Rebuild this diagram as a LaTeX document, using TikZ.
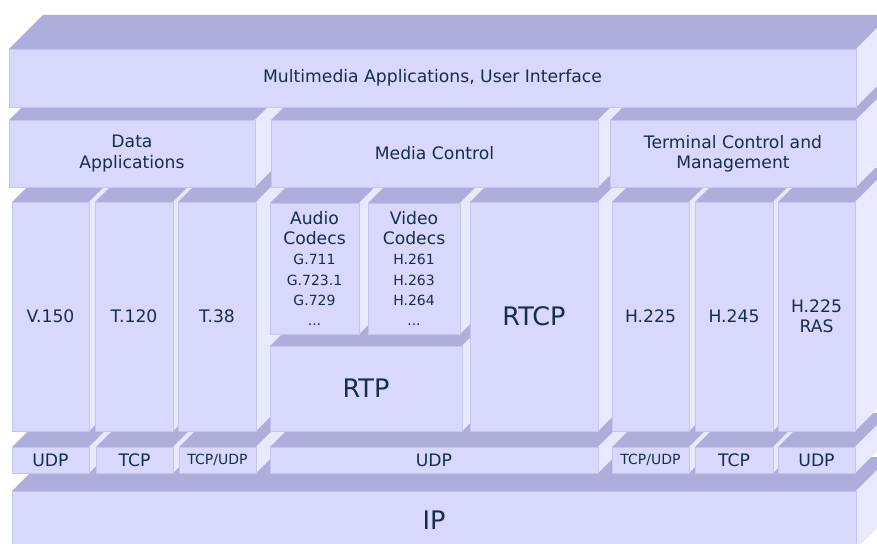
\documentclass[tikz,border=0pt]{standalone}
\usepackage{fontspec}
\setmainfont{DejaVu Sans}
\usetikzlibrary{positioning}

\definecolor{frontcol}{RGB}{216,216,252}
\definecolor{topcol}{RGB}{174,174,220}
\definecolor{sidecol}{RGB}{233,233,253}
\definecolor{edgecol}{RGB}{198,198,236}
\definecolor{inkcol}{RGB}{24,44,78}

\newcommand{\lblfont}{\fontsize{17.2}{20.2}\selectfont}
\newcommand{\smallfnt}{\fontsize{14}{17}\selectfont}
\newcommand{\bigfnt}{\fontsize{25.5}{29}\selectfont}
\newcommand{\slabdepth}{34}

% one layer block: [options] name, x1, y1, x2, y2 (front face), text
\newcommand{\slab}[7][]{%
  \fill[topface] (#3,#4) -- ({#3+\slabdepth},{#4-\slabdepth}) -- ({#5+\slabdepth},{#4-\slabdepth}) -- (#5,#4) -- cycle;
  \fill[sideface] (#5,#4) -- ({#5+\slabdepth},{#4-\slabdepth}) -- ({#5+\slabdepth},{#6-\slabdepth}) -- (#5,#6) -- cycle;
  \node[frontface, minimum width={(#5-#3)*1pt}, minimum height={(#6-#4)*1pt}, #1] (#2) at ({(#3+#5)/2},{(#4+#6)/2}) {#7};
}

\begin{document}
\begin{tikzpicture}[
    x=1pt, y=-1pt,
    topface/.style={fill=topcol},
    sideface/.style={fill=sidecol},
    frontface/.style={draw=edgecol, line width=0.5pt, fill=frontcol, inner sep=0pt,
      align=center, text=inkcol, font=\lblfont},
    big/.style={font=\bigfnt},
    small/.style={font=\smallfnt}
]
    \useasboundingbox (0,0) rectangle (877,543);
    \clip (0,0) rectangle (877,543);

    % network layer
    \slab[big]{ip}{12}{491}{856}{549}{IP}

    % transport layer
    \slab{udpa}{12}{447}{89}{473}{UDP}
    \slab{tcpa}{96}{447}{173}{473}{TCP}
    \slab[small]{tcpudpa}{179}{447}{256}{473}{TCP/UDP}
    \slab{udpm}{270}{447}{598}{473}{UDP}
    \slab[small]{tcpudpb}{612}{447}{689}{473}{TCP/UDP}
    \slab{tcpb}{695}{447}{773}{473}{TCP}
    \slab{udpb}{778}{447}{855}{473}{UDP}

    % protocols
    \slab{vcent}{12}{202}{89}{431}{V.150}
    \slab{tcent}{95}{202}{173}{431}{T.120}
    \slab{tthirty}{178}{202}{256}{431}{T.38}
    \slab[big]{rtp}{270}{346}{462}{431}{RTP}
    \slab{audio}{270}{203}{359}{334}{Audio\\Codecs\\{\smallfnt G.711}\\{\smallfnt G.723.1}\\{\smallfnt G.729}\\{\smallfnt ...}}
    \slab{video}{368}{203}{460}{334}{Video\\Codecs\\{\smallfnt H.261}\\{\smallfnt H.263}\\{\smallfnt H.264}\\{\smallfnt ...}}
    \slab[big]{rtcp}{470}{202}{598}{431}{RTCP}
    \slab{hcall}{612}{202}{689}{431}{H.225}
    \slab{hctrl}{695}{202}{773}{431}{H.245}
    \slab{hras}{778}{202}{855}{431}{H.225\\RAS}

    % application groups
    \slab{data}{9}{120}{255}{187}{Data\\Applications}
    \slab{media}{271}{120}{598}{187}{Media Control}
    \slab{term}{610}{120}{856}{187}{Terminal Control and\\Management}

    \slab{apps}{9}{49}{856}{107}{Multimedia Applications, User Interface}
\end{tikzpicture}
\end{document}
